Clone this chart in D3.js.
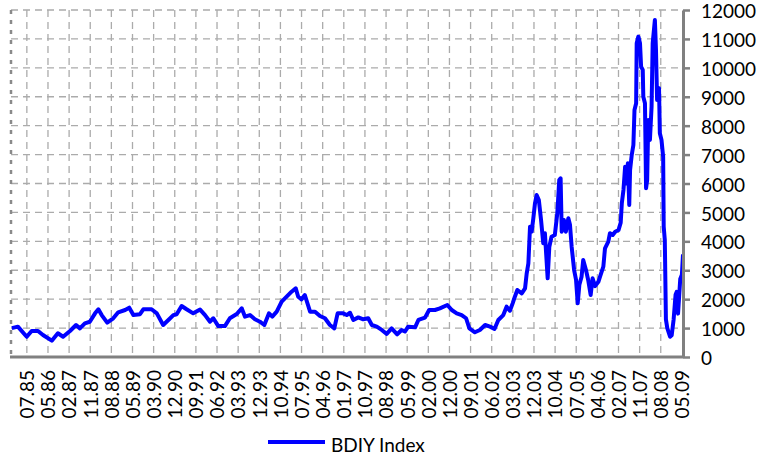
<!DOCTYPE html>
<html>
<head>
<meta charset="utf-8">
<script src="https://cdn.jsdelivr.net/npm/d3@7"></script>
<style>
  body { margin: 0; background: #fff; }
  text { font-family: Lato, "Open Sans", sans-serif; fill: #000; }
</style>
</head>
<body>
<script>
var years = [1985.04,1985.26,1985.58,1985.76,1985.99,1986.17,1986.49,1986.71,1986.90,1987.15,
  1987.37,1987.51,1987.69,1987.87,1988.06,1988.18,1988.30,1988.50,1988.72,1988.90,
  1989.15,1989.30,1989.45,1989.69,1989.81,1990.11,1990.30,1990.53,1990.72,1990.90,
  1991.02,1991.20,1991.38,1991.62,1991.87,1992.05,1992.23,1992.35,1992.53,1992.77,
  1992.95,1993.20,1993.38,1993.50,1993.68,1993.86,1994.04,1994.20,1994.37,1994.49,
  1994.65,1994.83,1995.01,1995.19,1995.34,1995.43,1995.55,1995.67,1995.86,1996.04,
  1996.22,1996.40,1996.58,1996.74,1996.86,1997.06,1997.19,1997.31,1997.43,1997.61,
  1997.79,1997.97,1998.10,1998.28,1998.46,1998.64,1998.82,1999.02,1999.18,1999.30,
  1999.42,1999.67,1999.79,2000.03,2000.18,2000.39,2000.57,2000.84,2001.00,2001.18,
  2001.36,2001.52,2001.64,2001.84,2002.02,2002.21,2002.39,2002.55,2002.69,2002.87,
  2002.99,2003.11,2003.21,2003.29,2003.38,2003.54,2003.66,2003.72,2003.78,2003.84,
  2003.90,2003.96,2004.02,2004.08,2004.16,2004.24,2004.32,2004.38,2004.48,2004.54,
  2004.62,2004.74,2004.83,2004.90,2004.95,2004.99,2005.07,2005.14,2005.23,2005.29,
  2005.35,2005.44,2005.51,2005.57,2005.63,2005.71,2005.77,2005.87,2005.95,2006.04,
  2006.11,2006.20,2006.32,2006.38,2006.50,2006.56,2006.68,2006.74,2006.84,2006.93,
  2007.05,2007.13,2007.17,2007.23,2007.29,2007.35,2007.39,2007.44,2007.47,2007.53,
  2007.59,2007.63,2007.69,2007.71,2007.77,2007.83,2007.87,2007.93,2007.95,2008.01,
  2008.05,2008.09,2008.13,2008.19,2008.25,2008.29,2008.37,2008.41,2008.45,2008.52,
  2008.55,2008.61,2008.67,2008.69,2008.73,2008.77,2008.82,2008.92,2008.98,2009.05,
  2009.12,2009.16,2009.21,2009.25,2009.29,2009.35,2009.39];

var bdiy = [1000,1050,700,900,900,760,565,820,700,900,
  1107,990,1165,1220,1510,1650,1450,1190,1340,1545,
  1625,1705,1450,1480,1650,1650,1510,1107,1280,1450,
  1480,1763,1650,1510,1640,1450,1220,1340,1070,1070,
  1340,1487,1683,1395,1450,1303,1220,1107,1510,1395,
  1567,1913,2085,2258,2375,2085,1995,2144,1567,1567,
  1418,1340,1107,990,1510,1510,1450,1530,1280,1370,
  1303,1340,1107,1050,935,800,990,785,935,880,
  1050,1025,1280,1360,1625,1625,1683,1800,1625,1510,
  1450,1340,990,855,935,1107,1050,970,1280,1450,
  1740,1600,1856,2085,2317,2200,2375,2894,3240,4506,
  4333,4796,5315,5602,5430,4738,3932,4280,2721,3814,
  4160,4220,4969,6120,6180,4333,4738,4333,4796,4570,
  3814,3008,2663,1856,2500,2778,3355,3008,2663,2144,
  2720,2450,2600,2778,3125,3760,3990,4280,4220,4333,
  4390,4645,5315,5776,6583,6000,6700,5256,6466,6985,
  7331,8541,8773,10848,11080,10850,10040,9930,9000,8773,
  5834,6120,8195,7504,8657,10848,11654,10616,8887,9291,
  7735,7504,6927,4506,4046,1300,1000,700,750,1300,
  2150,2250,1500,2100,2700,2850,3550];

var xLabels = ["07.85","05.86","02.87","11.87","08.88","05.89","03.90","12.90","09.91","06.92",
  "03.93","12.93","10.94","07.95","04.96","01.97","10.97","08.98","05.99","02.00",
  "12.00","09.01","06.02","03.03","12.03","10.04","07.05","04.06","02.07","11.07",
  "08.08","05.09"];

var yTicks = [0,1000,2000,3000,4000,5000,6000,7000,8000,9000,10000,11000,12000];

var seriesName = "BDIY Index";

var width = 767,
    height = 458,
    plotLeft = 11, plotRight = 683, plotTop = 10, plotBottom = 357;

var svg = d3.select("body")
    .append("svg")
    .attr("width", width)
    .attr("height", height);

var x = d3.scaleLinear()
    .domain([1985.01, 2009.39])
    .range([plotLeft, plotRight]);

var y = d3.scaleLinear()
    .domain([0, 12000])
    .range([plotBottom, plotTop]);

// category labels sit every 40 weeks, starting at week 30 of the series
var labelYears = xLabels.map(function(d, i){
    return 1985.01 + (30 + 40 * i) * 7 / 365.25;
});

//grid
svg.append("g")
    .selectAll("line")
    .data(yTicks.slice(1))
    .enter()
    .append("line")
    .attr("x1", plotLeft).attr("x2", plotRight)
    .attr("y1", function(d){ return y(d); })
    .attr("y2", function(d){ return y(d); })
    .attr("stroke", "#ababab")
    .attr("stroke-width", 1.3)
    .attr("stroke-dasharray", "7,5");

svg.append("g")
    .selectAll("line")
    .data(labelYears.slice(0, -1))
    .enter()
    .append("line")
    .attr("x1", function(d){ return x(d); })
    .attr("x2", function(d){ return x(d); })
    .attr("y1", plotTop).attr("y2", plotBottom)
    .attr("stroke", "#ababab")
    .attr("stroke-width", 1.3)
    .attr("stroke-dasharray", "7,5");

// left border
svg.append("line")
    .attr("x1", plotLeft).attr("x2", plotLeft)
    .attr("y1", plotTop).attr("y2", plotBottom)
    .attr("stroke", "#8a8a8a")
    .attr("stroke-width", 2.5)
    .attr("stroke-dasharray", "4,6");

//line
var line = d3.line()
    .x(function(d, i){ return x(years[i]); })
    .y(function(d){ return y(d); });

svg.append("path")
    .datum(bdiy)
    .attr("fill", "none")
    .attr("stroke", "#0000ff")
    .attr("stroke-width", 4)
    .attr("stroke-linejoin", "round")
    .attr("d", line);

//bottom axis
var xAxis = d3.axisBottom(x)
    .tickValues(labelYears)
    .tickFormat(function(d, i){ return xLabels[i]; })
    .tickSize(0)
    .tickSizeOuter(0);

var gx = svg.append("g")
    .attr("transform", "translate(0," + plotBottom + ")")
    .call(xAxis);
gx.select(".domain")
    .attr("d", "M" + (plotLeft - 1) + ",0H" + plotRight)
    .attr("stroke", "#808080")
    .attr("stroke-width", 3);
gx.selectAll("text")
    .attr("transform", "rotate(-90)")
    .attr("x", -13)
    .attr("y", 0)
    .attr("dy", "0.36em")
    .attr("text-anchor", "end")
    .style("font-size", "19px")
    .style("font-family", "Lato");

//right axis
var yAxis = d3.axisRight(y)
    .tickValues(yTicks)
    .tickFormat(d3.format("d"))
    .tickSize(7)
    .tickSizeOuter(0)
    .tickPadding(11);

var gy = svg.append("g")
    .attr("transform", "translate(" + plotRight + ",0)")
    .call(yAxis);
gy.select(".domain")
    .attr("stroke", "#808080")
    .attr("stroke-width", 3);
gy.selectAll(".tick line")
    .attr("stroke", "#808080")
    .attr("stroke-width", 2.5);
gy.selectAll("text")
    .attr("y", 1.5)
    .style("font-size", "19px")
    .style("font-family", "Lato");

//legend
svg.append("line")
    .attr("x1", 268).attr("x2", 325)
    .attr("y1", 442).attr("y2", 442)
    .attr("stroke", "#0000ff")
    .attr("stroke-width", 4);

svg.append("text")
    .attr("x", 331)
    .attr("y", 445)
    .attr("dy", "0.35em")
    .style("font-size", "19px")
    .text(seriesName);
</script>
</body>
</html>
